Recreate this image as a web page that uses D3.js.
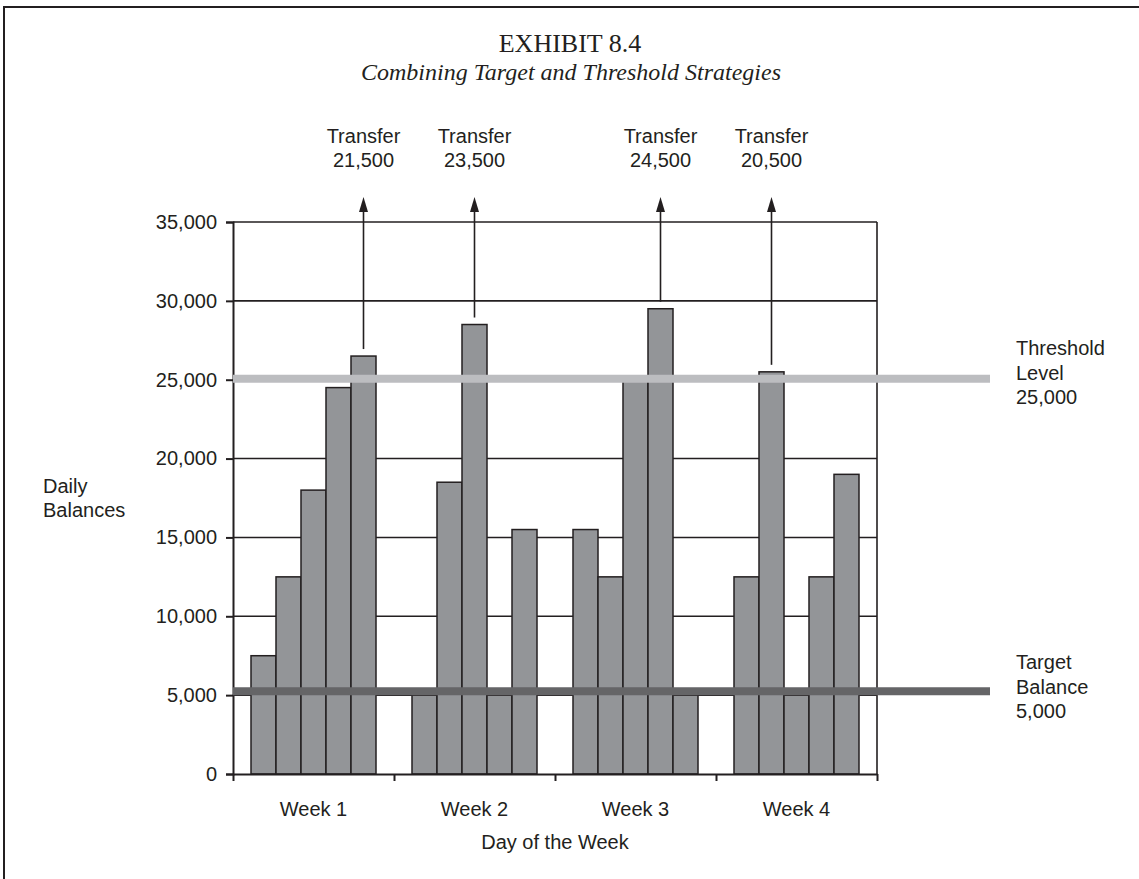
<!DOCTYPE html>
<html>
<head>
<meta charset="utf-8">
<script src="https://cdn.jsdelivr.net/npm/d3@7"></script>
<style>
  body { margin: 0; background: #fff; }
  text { font-family: "Liberation Sans", Arial, sans-serif; fill: #231f20; }
  .title { font-family: "Liberation Serif", "Times New Roman", serif; }
</style>
</head>
<body>
<div id="chart"></div>
<script>
// chart values
let weeks = ["Week 1", "Week 2", "Week 3", "Week 4"];
let days = ["Mon", "Tue", "Wed", "Thu", "Fri"];
let week1 = [7500, 12500, 18000, 24500, 26500];
let week2 = [5000, 18500, 28500, 5000, 15500];
let week3 = [15500, 12500, 25000, 29500, 5000];
let week4 = [12500, 25500, 5000, 12500, 19000];
let transferWeeks = ["Week 1", "Week 2", "Week 3", "Week 4"];
let transferDays = ["Fri", "Wed", "Thu", "Tue"];
let transferAmounts = [21500, 23500, 24500, 20500];
let yTicks = [0, 5000, 10000, 15000, 20000, 25000, 30000, 35000];
let thresholdLevel = 25000;
let targetBalance = 5000;

let width = 1139, height = 879;
let plot = {left: 233, right: 877, top: 222, bottom: 774};

let ink = "#231f20";
let barGrey = "#939598";
let thresholdGrey = "#bcbdc0";
let targetGrey = "#656567";

let rows = [];
[week1, week2, week3, week4].forEach((vals, i) => {
    vals.forEach((v, j) => rows.push({week: weeks[i], day: days[j], value: v}));
});
let transfers = transferAmounts.map((a, i) => {
    let row = rows.find(r => r.week == transferWeeks[i] && r.day == transferDays[i]);
    return {week: row.week, day: row.day, value: row.value, amount: a};
});

let svg = d3.select("#chart").append("svg")
    .attr("width", width)
    .attr("height", height);

// outer frame of the exhibit (runs off the right and bottom edge)
svg.append("path")
    .attr("d", "M4," + (height + 5) + "V7H" + (width + 5))
    .attr("fill", "none")
    .attr("stroke", ink)
    .attr("stroke-width", 2);

svg.append("text").attr("class", "title")
    .attr("x", 570).attr("y", 52)
    .attr("text-anchor", "middle")
    .style("font-size", "26px")
    .text("EXHIBIT 8.4");
svg.append("text").attr("class", "title")
    .attr("x", 571).attr("y", 80)
    .attr("text-anchor", "middle")
    .style("font-size", "24px")
    .style("font-style", "italic")
    .text("Combining Target and Threshold Strategies");

// scales
let yScale = d3.scaleLinear().domain([0, 35000]).range([plot.bottom, plot.top]);
let xWeek = d3.scaleBand().domain(weeks).range([plot.left, plot.right]);
let xDay = d3.scaleBand().domain(days).range([0, xWeek.bandwidth()]).paddingOuter(0.72);
let xEdge = d3.scaleLinear().domain([0, weeks.length]).range([plot.left, plot.right]);

// horizontal gridlines
svg.append("g")
    .selectAll("line")
    .data(yTicks.filter(d => d > 0))
    .enter().append("line")
    .attr("x1", plot.left).attr("x2", plot.right)
    .attr("y1", d => yScale(d)).attr("y2", d => yScale(d))
    .attr("stroke", ink)
    .attr("stroke-width", 1.6);

// bars
svg.append("g")
    .selectAll("rect")
    .data(rows)
    .enter().append("rect")
    .attr("x", d => xWeek(d.week) + xDay(d.day))
    .attr("y", d => yScale(d.value))
    .attr("width", xDay.bandwidth())
    .attr("height", d => yScale(0) - yScale(d.value))
    .attr("fill", barGrey)
    .attr("stroke", ink)
    .attr("stroke-width", 1.5);

// y axis
let yAxis = svg.append("g")
    .attr("transform", "translate(" + plot.left + ",0)")
    .call(d3.axisLeft(yScale).tickValues(yTicks).tickFormat(d3.format(",")).tickSize(7).tickPadding(9));
yAxis.selectAll("text").style("font-size", "20px").attr("fill", ink);
yAxis.selectAll("line, path").attr("stroke", ink).attr("stroke-width", 2);

// x axis: ticks at the week boundaries, labels in the middle
let xAxis = svg.append("g")
    .attr("transform", "translate(0," + plot.bottom + ")")
    .call(d3.axisBottom(xEdge).tickValues(d3.range(weeks.length + 1)).tickFormat("").tickSize(7).tickSizeOuter(0));
xAxis.selectAll("line, path").attr("stroke", ink).attr("stroke-width", 2);

// right border of the plot
svg.append("line")
    .attr("x1", plot.right).attr("x2", plot.right)
    .attr("y1", yScale(35000)).attr("y2", yScale(0))
    .attr("stroke", ink).attr("stroke-width", 1.6);

svg.append("g")
    .selectAll("text")
    .data(weeks)
    .enter().append("text")
    .attr("x", d => xWeek(d) + xWeek.bandwidth() / 2)
    .attr("y", 816)
    .attr("text-anchor", "middle")
    .style("font-size", "20px")
    .text(d => d);

svg.append("text")
    .attr("x", (plot.left + plot.right) / 2)
    .attr("y", 849)
    .attr("text-anchor", "middle")
    .style("font-size", "20px")
    .text("Day of the Week");

svg.append("text")
    .attr("x", 43).attr("y", 493)
    .style("font-size", "20px")
    .selectAll("tspan")
    .data(["Daily", "Balances"])
    .enter().append("tspan")
    .attr("x", 43)
    .attr("dy", (d, i) => i ? 24 : 0)
    .text(d => d);

// threshold and target bands
svg.append("line")
    .attr("x1", plot.left).attr("x2", 990)
    .attr("y1", yScale(thresholdLevel) - 1).attr("y2", yScale(thresholdLevel) - 1)
    .attr("stroke", thresholdGrey).attr("stroke-width", 8);
svg.append("line")
    .attr("x1", plot.left).attr("x2", 990)
    .attr("y1", yScale(targetBalance) - 4).attr("y2", yScale(targetBalance) - 4)
    .attr("stroke", targetGrey).attr("stroke-width", 8);

function sideLabel(lines, y) {
    svg.append("text")
        .style("font-size", "20px")
        .selectAll("tspan")
        .data(lines)
        .enter().append("tspan")
        .attr("x", 1016)
        .attr("y", (d, i) => y + i * 24.5)
        .text(d => d);
}
sideLabel(["Threshold", "Level", d3.format(",")(thresholdLevel)], 355);
sideLabel(["Target", "Balance", d3.format(",")(targetBalance)], 669);

// transfer arrows
let arrowTip = yScale(35000) - 25;
let arrows = svg.append("g")
    .selectAll("g")
    .data(transfers)
    .enter().append("g")
    .attr("transform", d => "translate(" + (xWeek(d.week) + xDay(d.day) + xDay.bandwidth() / 2) + ",0)");
arrows.append("line")
    .attr("x1", 0).attr("x2", 0)
    .attr("y1", d => yScale(d.value) - 7)
    .attr("y2", arrowTip + 10)
    .attr("stroke", ink).attr("stroke-width", 1.6);
arrows.append("path")
    .attr("d", "M0," + arrowTip + "L4.5," + (arrowTip + 15) + "L-4.5," + (arrowTip + 15) + "Z")
    .attr("fill", ink);
arrows.append("text")
    .attr("text-anchor", "middle")
    .style("font-size", "20px")
    .selectAll("tspan")
    .data(d => ["Transfer", d3.format(",")(d.amount)])
    .enter().append("tspan")
    .attr("x", 0)
    .attr("y", (d, i) => 143 + i * 24)
    .text(d => d);
</script>
</body>
</html>
